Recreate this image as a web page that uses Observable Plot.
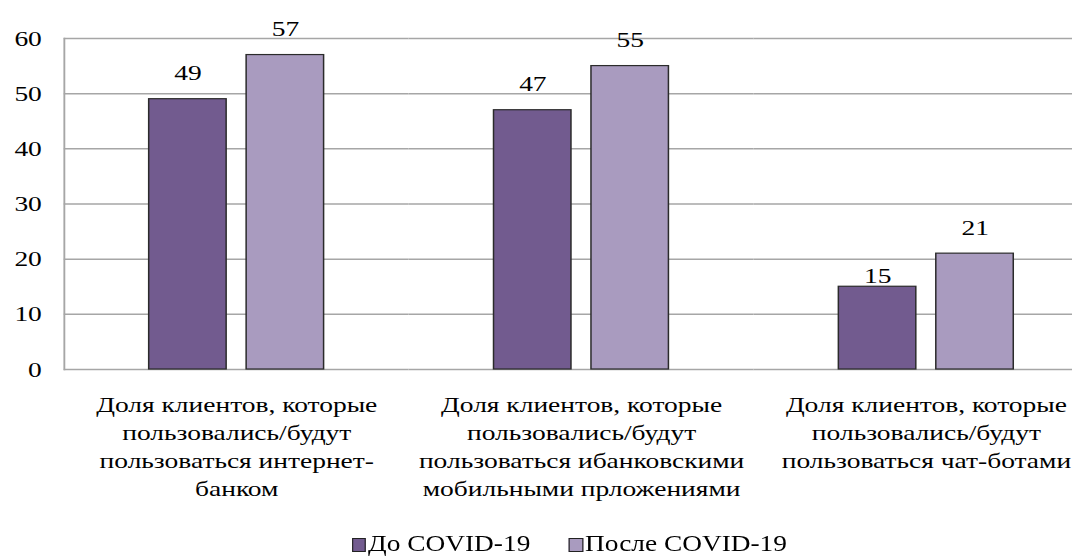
<!DOCTYPE html>
<html><head><meta charset="utf-8">
<script src="https://cdn.jsdelivr.net/npm/d3@7"></script>
<script src="https://cdn.jsdelivr.net/npm/@observablehq/plot@0.6"></script>
<style>
html,body{margin:0;padding:0;background:#fff;overflow:hidden}
#wrap{width:858px;transform:scale(1.2494,1);transform-origin:0 0;font-family:"Liberation Serif","Times New Roman",serif;color:#000}
.legend{display:flex;align-items:center;height:25px;padding-left:309px;font-size:24px;line-height:25px;white-space:nowrap;transform:scale(0.912,1);transform-origin:0 0;width:900px}
.item{display:flex;align-items:center;margin-right:34px}
.sw{width:12.3px;height:14px;box-sizing:border-box;border:1px solid #222;margin-right:1.75px;position:relative;top:1px}
</style></head><body><div id="wrap"><div id="chart"></div><div class="legend" id="legend"></div></div>
<script>
const categories = [
  "Доля клиентов, которые\nпользовались/будут\nпользоваться интернет-\nбанком",
  "Доля клиентов, которые\nпользовались/будут\nпользоваться ибанковскими\nмобильными прложениями",
  "Доля клиентов, которые\nпользовались/будут\nпользоваться чат-ботами"
];
const seriesNames = ["До COVID-19", "После COVID-19"];
const before = [49, 47, 15];
const after = [57, 55, 21];
const yTicks = [0, 10, 20, 30, 40, 50, 60];
const colors = ["#725b8f", "#a99bbf"];

const data = categories.flatMap((c, i) => [
  {category: c, series: seriesNames[0], value: before[i]},
  {category: c, series: seriesNames[1], value: after[i]}
]);
const isTight = d => d.category === categories[2] && d.series === seriesNames[0];

const chart = Plot.plot({
  width: 858, height: 531,
  marginTop: 38, marginBottom: 162,
  style: {fontFamily: "'Liberation Serif', 'Times New Roman', serif", fontSize: "22px", color: "#000", background: "#fff"},
  fx: {domain: categories, range: [49.6, 880.4], padding: 0, axis: null},
  x: {domain: seriesNames, paddingInner: 0.204, paddingOuter: 0.868, axis: null},
  y: {domain: [0, 60], axis: null},
  color: {domain: seriesNames, range: colors},
  marks: [
    Plot.gridY(yTicks, {stroke: "#a6a6a6", strokeOpacity: 1, strokeWidth: 1.5}),
    Plot.frame({anchor: "left", facetAnchor: "left", stroke: "#a6a6a6", strokeWidth: 1.5}),
    Plot.axisY(yTicks, {tickSize: 0, tickPadding: 18, fontSize: 22, fill: "#000", label: null, tickFormat: d => String(d)}),
    Plot.barY(data, {fx: "category", x: "series", y: "value", fill: "series", stroke: "#2b2b2b", strokeWidth: 1.2}),
    Plot.text(data.filter(d => !isTight(d)), {fx: "category", x: "series", y: "value", text: d => String(d.value), lineAnchor: "bottom", dy: -19, fontSize: 22, fill: "#000"}),
    Plot.text(data.filter(isTight), {fx: "category", x: "series", y: "value", text: d => String(d.value), lineAnchor: "bottom", dy: -4, fontSize: 22, fill: "#000"}),
    Plot.text(categories, {fx: d => d, text: d => d, frameAnchor: "bottom", lineAnchor: "top", dy: 23.1, lineHeight: 28 / 22, fontSize: 22, fill: "#000"})
  ]
});
document.getElementById("chart").appendChild(chart);

const legend = document.getElementById("legend");
seriesNames.forEach((s, i) => {
  const item = document.createElement("div");
  item.className = "item";
  const sw = document.createElement("span");
  sw.className = "sw";
  sw.style.background = colors[i];
  const label = document.createElement("span");
  label.textContent = s;
  item.appendChild(sw);
  item.appendChild(label);
  legend.appendChild(item);
});
</script>
</body></html>
